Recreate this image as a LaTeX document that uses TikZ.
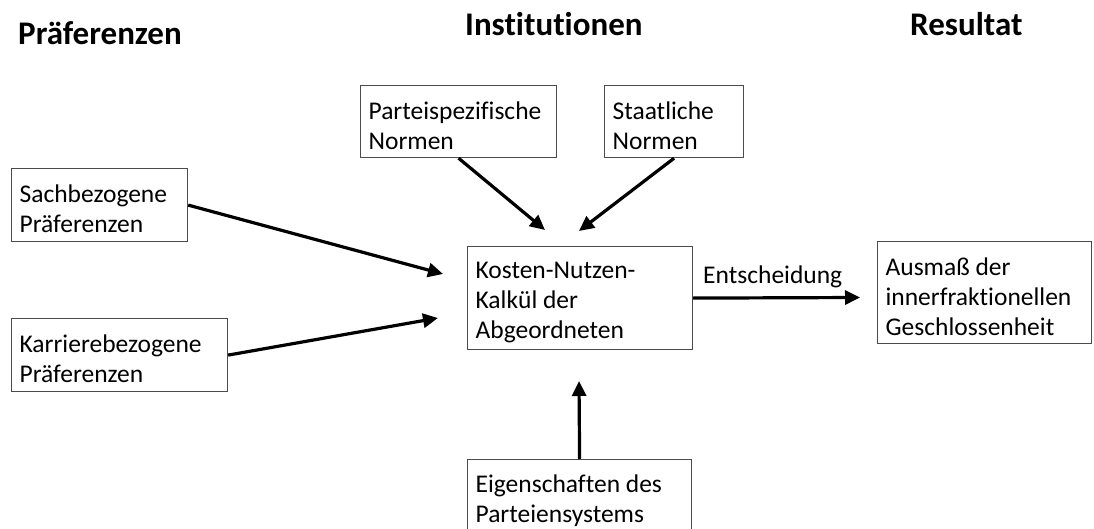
\documentclass[tikz,border=0pt]{standalone}
\usepackage{fontspec}
\setmainfont{Carlito}[Ligatures={NoCommon}]
\usetikzlibrary{arrows.meta}
\begin{document}
\begin{tikzpicture}[x=1pt,y=-1pt,
  box/.style={draw=black!70,line width=1.2pt,anchor=north west,align=flush left,inner xsep=8pt,inner ysep=0pt,font=\fontsize{25.5}{30}\selectfont,execute at begin node={\rule{0pt}{25pt}}},
  title/.style={anchor=base west,font=\fontsize{33}{38}\selectfont\bfseries,inner sep=0pt},
  arr/.style={line width=3.2pt,-{Triangle[length=15pt,width=14pt]}}]
\useasboundingbox (0,0) rectangle (1094,529);
\node[title] (t1) at (18,45) {Präferenzen};
\node[title] (t2) at (465,36) {Institutionen};
\node[title] (t3) at (910,36) {Resultat};

\node[box,text width=160pt,minimum height=73pt] (sach) at (11,168) {Sachbezogene\\Präferenzen};
\node[box,text width=200pt,minimum height=73pt] (karr) at (11,318) {Karrierebezogene\\Präferenzen};
\node[box,text width=180pt,minimum height=72pt] (part) at (360,85) {Parteispezifische\\Normen};
\node[box,text width=123pt,minimum height=72pt] (staat) at (604,85) {Staatliche\\Normen};
\node[box,text width=209pt,minimum height=103pt] (kn) at (467,246) {Kosten-Nutzen-\\Kalkül der\\Abgeordneten};
\node[box,text width=198pt,minimum height=102pt] (aus) at (877,241) {Ausmaß der\\innerfraktionellen\\Geschlossenheit};
\node[box,text width=208pt,minimum height=74pt] (eig) at (467,459) {Eigenschaften des\\Parteiensystems};

\coordinate (a1) at (443,274);
\coordinate (a2) at (438,318);
\coordinate (a3) at (545,230);
\coordinate (a4) at (579,231);
\coordinate (a5) at (860,297.5);
\coordinate (a6) at (579,381);

\draw[arr] (sach.east) -- (a1);
\draw[arr] (karr.east) -- (a2);
\draw[arr] (part.south) -- (a3);
\draw[arr] (staat.south) -- (a4);
\draw[arr] (kn.east) -- (a5);
\draw[arr] (eig.north) -- (a6);

\node[anchor=base west,inner sep=0pt,font=\fontsize{25.5}{30}\selectfont] (ent) at (703,283) {Entscheidung};
\end{tikzpicture}
\end{document}
